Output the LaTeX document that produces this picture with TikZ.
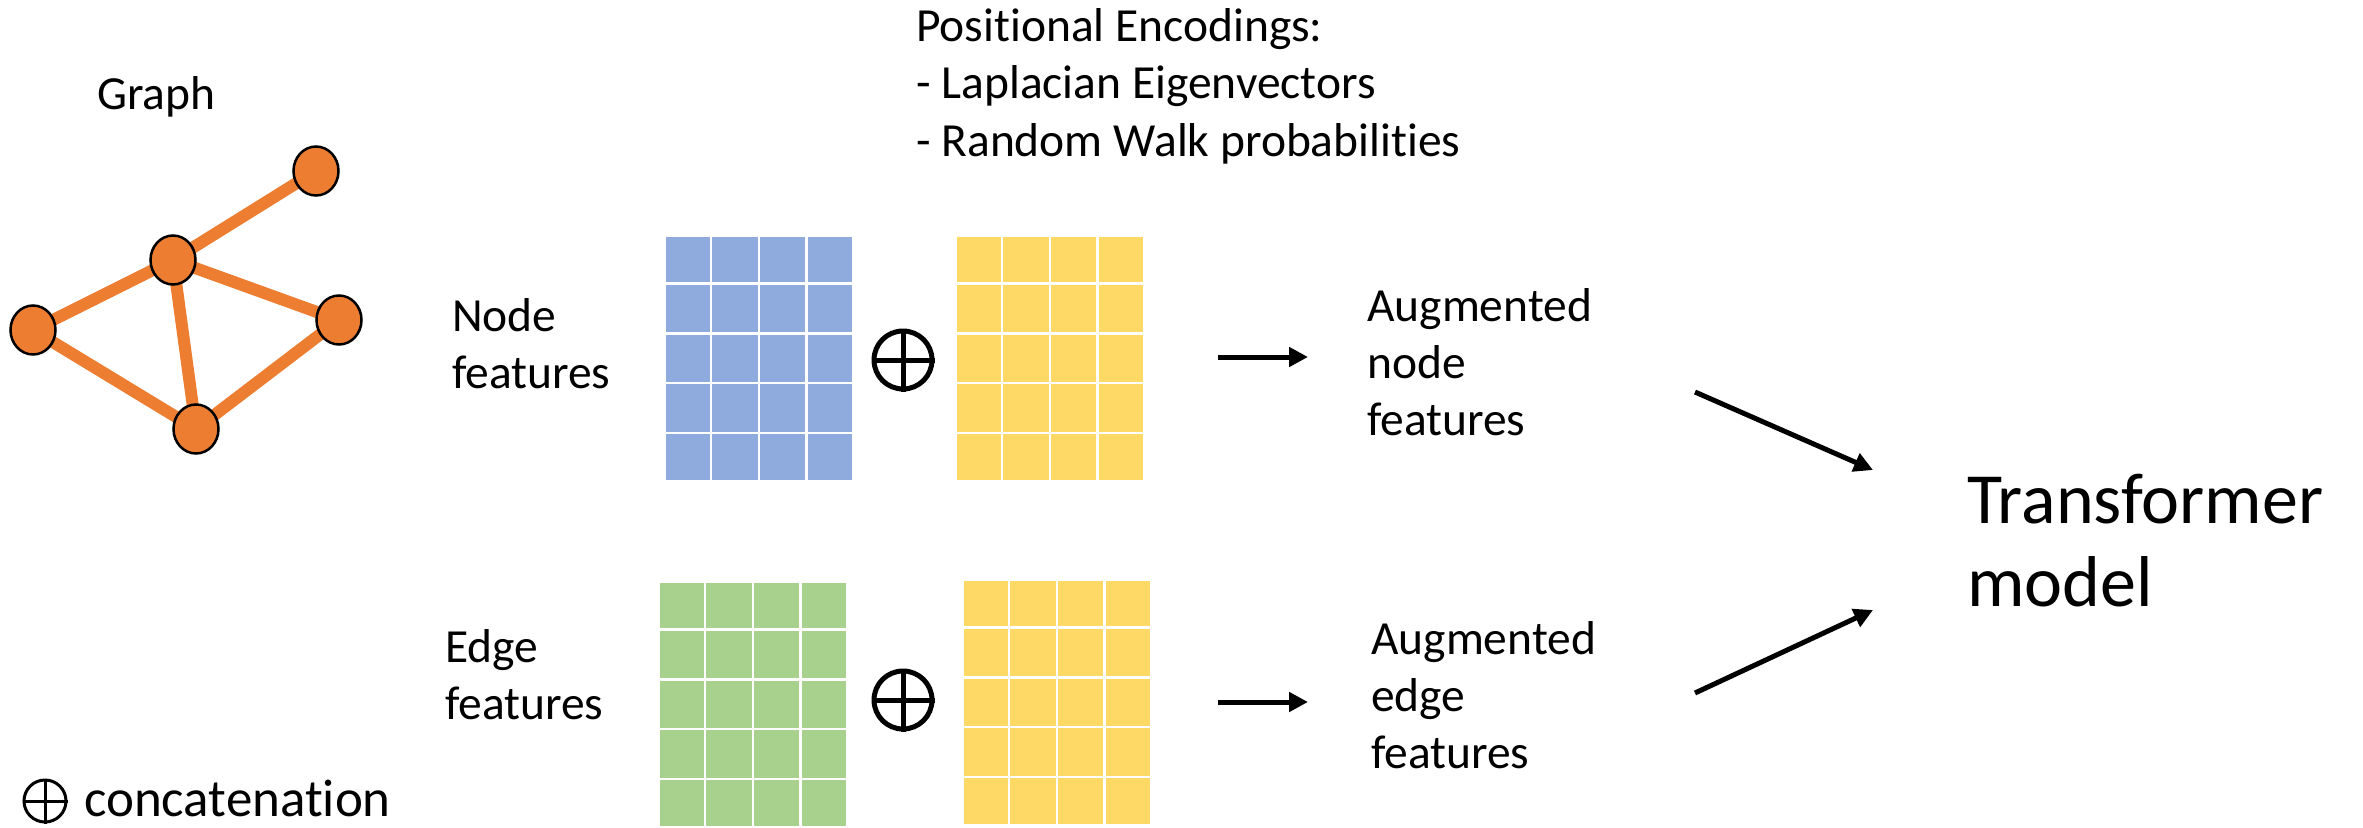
\documentclass[tikz,border=0pt]{standalone}
\usepackage{fontspec}
\setmainfont{Carlito}[Ligatures=NoCommon]
\usetikzlibrary{arrows.meta,shapes.geometric,calc}
\definecolor{gorange}{HTML}{ED7D31}
\definecolor{gblue}{HTML}{8FAADC}
\definecolor{ggreen}{HTML}{A9D18E}
\definecolor{gyellow}{HTML}{FFD966}
\newcommand\gridlines[1]{%
  \foreach \i in {1,2,3}{\draw[white,line width=2.5pt] ($(#1.north west)!\i/4!(#1.north east)$) -- ($(#1.south west)!\i/4!(#1.south east)$);}%
  \foreach \j in {1,2,3,4}{\draw[white,line width=2.5pt] ($(#1.north west)!\j/5!(#1.south west)$) -- ($(#1.north east)!\j/5!(#1.south east)$);}%
}
\begin{document}
\begin{tikzpicture}[x=1pt,y=-1pt,
  gnode/.style={ellipse,fill=gorange,draw=black,line width=2.5pt,minimum width=45pt,minimum height=49pt,inner sep=0pt},
  gedge/.style={gorange,line width=12pt},
  lbl/.style={font=\fontsize{47.5}{57}\selectfont,align=left,anchor=west,inner sep=0pt},
  legend/.style={font=\fontsize{53}{60}\selectfont,anchor=west,inner sep=0pt},
  big/.style={font=\fontsize{72}{83}\selectfont,align=left,anchor=west,inner sep=0pt},
  arr/.style={line width=5pt,-{Triangle[length=19pt,width=19pt]}},
  grid/.style={minimum width=189pt,minimum height=246pt,inner sep=0pt,draw=white,line width=2.5pt,anchor=north west},
  oplus/.style={circle,draw=black,line width=5pt,minimum size=58pt,inner sep=0pt},
  oplussmall/.style={circle,draw=black,line width=3pt,minimum size=42pt,inner sep=0pt}]
\useasboundingbox[fill=white] (0,0) rectangle (2363,827);

% graph
\node[lbl,anchor=base west] (glabel) at (97,109) {Graph};
\coordinate (c1) at (316,171);
\coordinate (c2) at (173,260);
\coordinate (c3) at (33,330);
\coordinate (c4) at (339,320);
\coordinate (c5) at (196,429);
\draw[gedge] (c2) -- (c1);
\draw[gedge] (c2) -- (c3);
\draw[gedge] (c2) -- (c4);
\draw[gedge] (c2) -- (c5);
\draw[gedge] (c3) -- (c5);
\draw[gedge] (c4) -- (c5);
\node[gnode] (n1) at (c1) {};
\node[gnode] (n2) at (c2) {};
\node[gnode] (n3) at (c3) {};
\node[gnode] (n4) at (c4) {};
\node[gnode] (n5) at (c5) {};

% positional encodings
\node[lbl,font=\fontsize{47.5}{57.5}\selectfont] (pe) at (916,86) {Positional Encodings:\\- Laplacian Eigenvectors\\- Random Walk probabilities};

% node row
\node[lbl] (nf) at (452,344) {Node\\features};
\node[grid,fill=gblue] (gb) at (663,234) {};
\gridlines{gb}
\node[oplus] (op1) at (903,360) {};
\draw[line width=5pt] (op1.north) -- (op1.south) (op1.west) -- (op1.east);
\node[grid,fill=gyellow] (gy1) at (954,234) {};
\gridlines{gy1}
\coordinate (a1s) at (1218,357);
\coordinate (a1e) at (1308,357);
\draw[arr] (a1s) -- (a1e);
\node[lbl] (anf) at (1367,362) {Augmented\\node\\features};

% edge row
\node[lbl] (ef) at (445,675) {Edge\\features};
\node[grid,fill=ggreen] (gg) at (657,580) {};
\gridlines{gg}
\node[oplus] (op2) at (903,700) {};
\draw[line width=5pt] (op2.north) -- (op2.south) (op2.west) -- (op2.east);
\node[grid,fill=gyellow] (gy2) at (961,578) {};
\gridlines{gy2}
\coordinate (a2s) at (1218,702);
\coordinate (a2e) at (1308,702);
\draw[arr] (a2s) -- (a2e);
\node[lbl] (aef) at (1371,695) {Augmented\\edge\\features};

% transformer
\node[big] (tm) at (1967,541) {Transformer\\model};
\coordinate (d1s) at (1695,392);
\coordinate (d1e) at (1873,470);
\coordinate (d2s) at (1695,693);
\coordinate (d2e) at (1873,610);
\draw[arr] (d1s) -- (d1e);
\draw[arr] (d2s) -- (d2e);

% legend
\node[oplussmall] (op3) at (45,801) {};
\draw[line width=3pt] (op3.north) -- (op3.south) (op3.west) -- (op3.east);
\node[legend] (cat) at (84,798) {concatenation};
\end{tikzpicture}
\end{document}
